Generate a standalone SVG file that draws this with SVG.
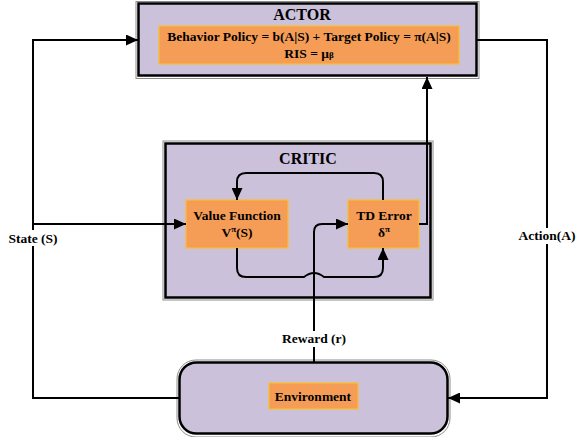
<svg xmlns="http://www.w3.org/2000/svg" width="582" height="437" viewBox="0 0 582 437">
<defs>
<marker id="ah" viewBox="0 0 12 11" refX="12" refY="5.5" markerWidth="12" markerHeight="11" markerUnits="userSpaceOnUse" orient="auto">
<path d="M0,0 L12,5.5 L0,11 Z" fill="#000"/>
</marker>
<style>
.frame{fill:#ccc1da;stroke:#000;stroke-width:2.5}
.halo{fill:none;stroke:#8c8c8c;stroke-width:1}
.inner{fill:#f59d56;stroke:#fbbf2a;stroke-width:1.2}
.t{font-family:"Liberation Serif","Times New Roman",serif;font-weight:bold;fill:#000;text-anchor:middle}
.big{font-size:16px}
.sm{font-size:13.5px}
.ln{fill:none;stroke:#000;stroke-width:2}
.lb{fill:#fff}
</style>
</defs>
<rect width="582" height="437" fill="#fff"/>
<g id="actor">
<rect class="halo" x="136" y="1.5" width="343" height="77"/>
<rect class="frame" x="138.5" y="3.5" width="338" height="72"/>
<text class="t big" x="302" y="20">ACTOR</text>
<rect class="inner" x="159" y="26" width="300" height="38"/>
<text class="t sm" x="309" y="41">Behavior Policy = b(A|S)  + Target Policy = π(A|S)</text>
<text class="t sm" x="309" y="58">RIS = μ<tspan font-size="9">β</tspan></text>
</g>
<g id="critic">
<rect class="halo" x="163" y="141" width="270" height="159"/>
<rect class="frame" x="165.5" y="143.5" width="265" height="154"/>
<text class="t big" x="308" y="164">CRITIC</text>
</g>
<g id="value-function">
<rect class="inner" x="186" y="200" width="102" height="48"/>
<text class="t sm" x="237" y="220">Value Function</text>
<text class="t sm" x="237" y="237">V<tspan font-size="9" dy="-5">π</tspan><tspan dy="5">(S)</tspan></text>
</g>
<g id="td-error">
<rect class="inner" x="348" y="200" width="71" height="48"/>
<text class="t sm" x="384" y="220">TD Error</text>
<text class="t sm" x="384" y="237">δ<tspan font-size="9" dy="-5">π</tspan></text>
</g>
<g id="environment">
<rect class="halo" x="177" y="360" width="273" height="77" rx="19"/>
<rect class="frame" x="179.5" y="362.5" width="268" height="71" rx="17"/>
<rect class="inner" x="269" y="383" width="89" height="26"/>
<text class="t sm" x="313" y="401">Environment</text>
</g>
<g id="connectors">
<path class="ln" d="M179,398 H33 V40 H138" marker-end="url(#ah)"/>
<path class="ln" d="M33,224 H186" marker-end="url(#ah)"/>
<path class="ln" d="M477,40 H547 V398 H448" marker-end="url(#ah)"/>
<path class="ln" d="M419,224 H427 V77" marker-end="url(#ah)"/>
<path class="ln" d="M314,362 V232 Q314,224 322,224 H348" marker-end="url(#ah)"/>
<path class="ln" d="M383,200 V182 Q383,173 374,173 H246 Q237,173 237,182 V200" marker-end="url(#ah)"/>
<path class="ln" d="M237,248 V268 Q237,277 246,277 H304 Q314,269 324,277 H374 Q383,277 383,268 V248" marker-end="url(#ah)"/>
<rect class="lb" x="6" y="230" width="54" height="16"/>
<text class="t sm" x="33" y="243">State (S)</text>
<rect class="lb" x="514" y="228" width="66" height="16"/>
<text class="t sm" x="547" y="240">Action(A)</text>
<rect class="lb" x="280" y="331" width="68" height="16"/>
<text class="t sm" x="314" y="343">Reward (r)</text>
</g>
</svg>
